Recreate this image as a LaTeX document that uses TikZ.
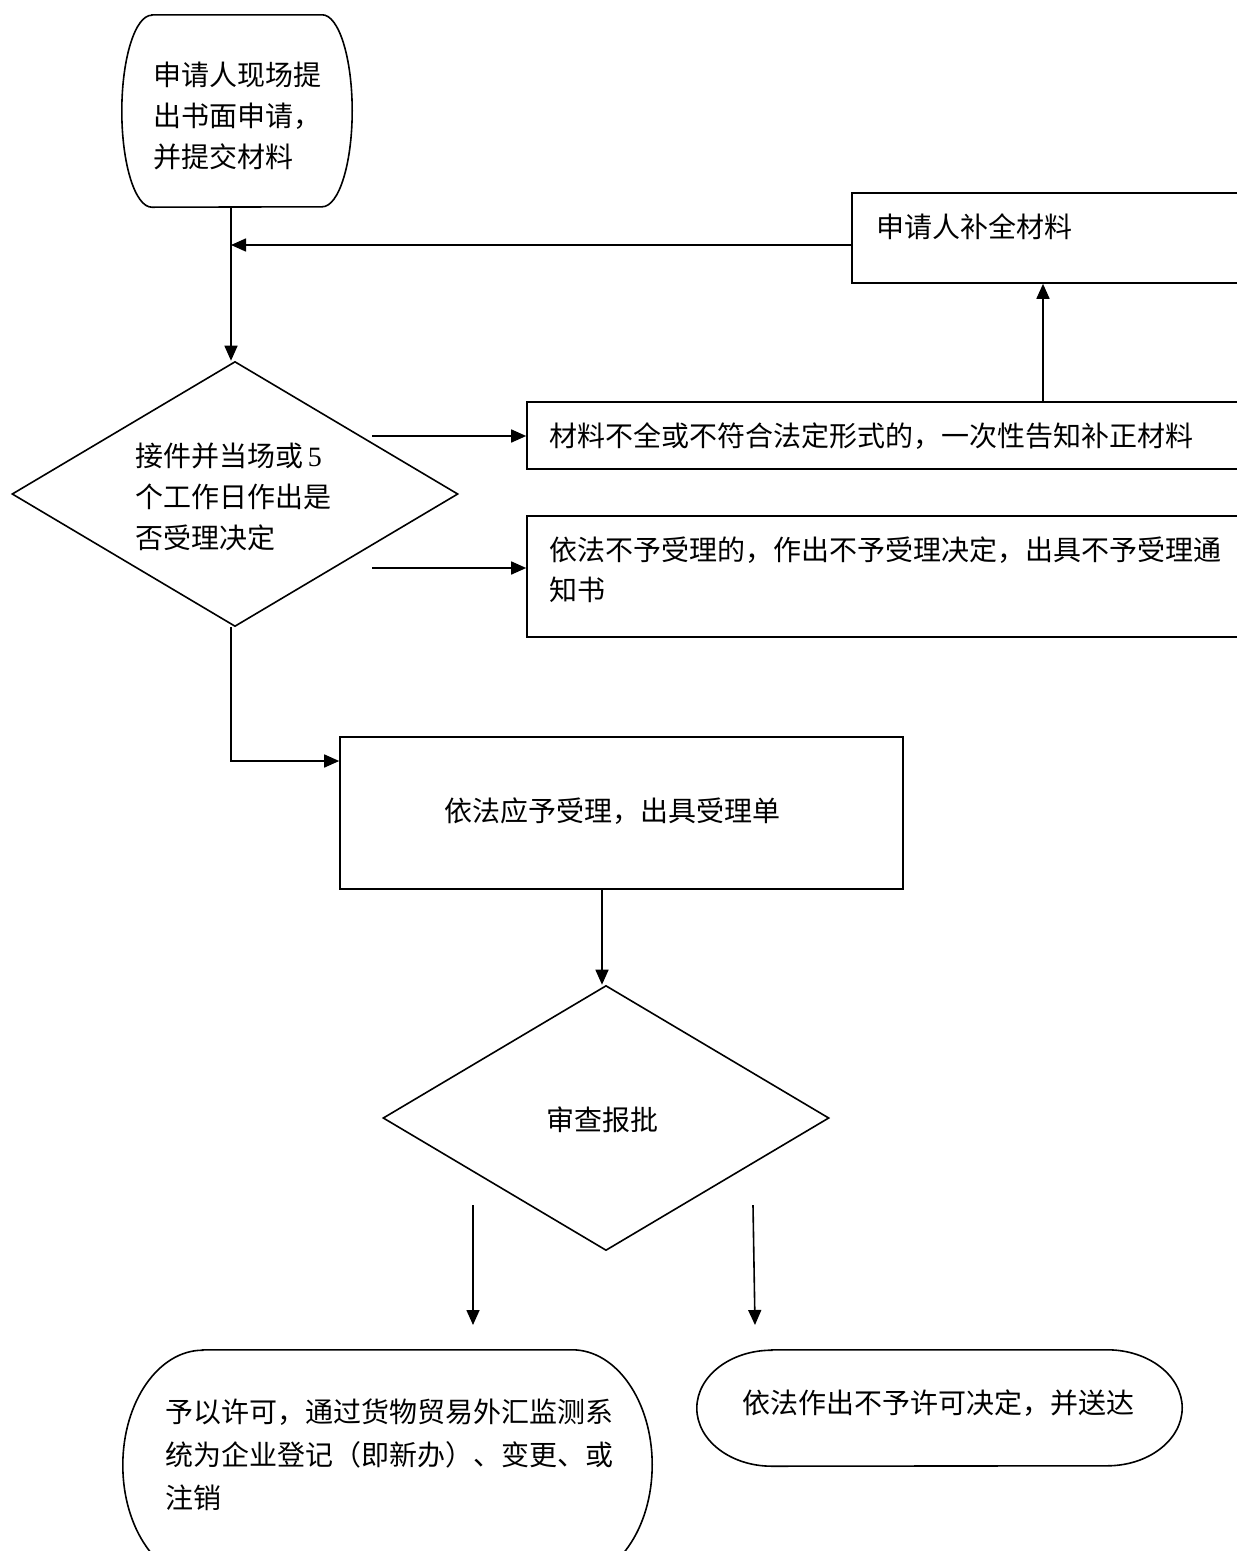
\documentclass[tikz,border=0pt]{standalone}
\usepackage{fontspec}
\setmainfont{Liberation Serif}
\newfontfamily\cjk{Noto Sans CJK SC}
\usetikzlibrary{arrows.meta,shapes.geometric,calc}
\tikzset{
  ln/.style={line width=1.6pt, draw=black},
  arr/.style={ln, -{Triangle[length=15pt,width=13pt]}},
  boxnode/.style={ln, rectangle, inner sep=0pt},
  decnode/.style={ln, diamond, inner sep=0pt, minimum width=446pt, minimum height=265pt},
  termnode/.style={rectangle, draw=none, inner sep=0pt},
  txt/.style={inner sep=0pt, align=left, font=\cjk\fontsize{28}{41}\selectfont},
}
\begin{document}
\begin{tikzpicture}[x=1pt,y=1pt]
\useasboundingbox (0,0) rectangle (1237,-1551);

% terminals (outline drawn below)
\node[termnode, minimum width=230pt, minimum height=192pt] (s) at (237,-111) {};
\node[termnode, minimum width=529pt, minimum height=230pt] (t1) at (387.5,-1465) {};
\node[termnode, minimum width=485pt, minimum height=116pt] (t2) at (939.5,-1408) {};
\draw[ln] ($(s.north west)+(30,0)$) -- ($(s.north east)+(-30,0)$)
  arc[start angle=90,end angle=-90,x radius=30pt,y radius=96pt]
  -- ($(s.south west)+(30,0)$)
  arc[start angle=270,end angle=90,x radius=30pt,y radius=96pt] -- cycle;
\draw[ln] ($(t1.north west)+(80,0)$) -- ($(t1.north east)+(-80,0)$)
  arc[start angle=90,end angle=-90,x radius=80pt,y radius=115pt]
  -- ($(t1.south west)+(80,0)$)
  arc[start angle=270,end angle=90,x radius=80pt,y radius=115pt] -- cycle;
\draw[ln] ($(t2.north west)+(75,0)$) -- ($(t2.north east)+(-75,0)$)
  arc[start angle=90,end angle=-90,x radius=75pt,y radius=58pt]
  -- ($(t2.south west)+(75,0)$)
  arc[start angle=270,end angle=90,x radius=75pt,y radius=58pt] -- cycle;

% decisions
\node[decnode] (d1) at (235,-494) {};
\node[decnode] (d2) at (606,-1118) {};

% boxes
\node[boxnode, minimum width=398pt, minimum height=90pt] (b1) at (1051,-238) {};
\node[boxnode, minimum width=723pt, minimum height=67pt] (b2) at (888.5,-435.5) {};
\node[boxnode, minimum width=723pt, minimum height=121pt] (b3) at (888.5,-576.5) {};
\node[boxnode, minimum width=563pt, minimum height=152pt] (b4) at (621.5,-813) {};

% texts
\node[txt, anchor=west] (st) at (153,-116) {申请人现场提\\出书面申请，\\并提交材料};
\node[txt, anchor=west] (d1t) at (135,-497) {接件并当场或\,{\rmfamily 5}\\个工作日作出是\\否受理决定};
\node[txt, anchor=west] (b1t) at (876,-227) {申请人补全材料};
\node[txt, anchor=west] (b2t) at (549,-436) {材料不全或不符合法定形式的，一次性告知补正材料};
\node[txt, anchor=west, font=\cjk\fontsize{28}{40}\selectfont] (b3t) at (549,-570) {依法不予受理的，作出不予受理决定，出具不予受理通\\知书};
\node[txt, anchor=center] (b4t) at (612,-811) {依法应予受理，出具受理单};
\node[txt, anchor=center] (d2t) at (602,-1120) {审查报批};
\node[txt, anchor=west, font=\cjk\fontsize{28}{43}\selectfont] (t1t) at (165,-1455) {予以许可，通过货物贸易外汇监测系\\统为企业登记（即新办）、变更、或\\注销};
\node[txt, anchor=west] (t2t) at (742,-1403) {依法作出不予许可决定，并送达};

% helper coordinates
\coordinate (xa) at (231,0);
\coordinate (j1) at (231,-245);
\coordinate (xb) at (1043,0);
\coordinate (p1) at (372,-436);
\coordinate (p2) at (372,-568);
\coordinate (k) at (231,-761);
\coordinate (xc) at (602,0);
\coordinate (r1s) at (473,-1205);
\coordinate (r1e) at (473,-1325);
\coordinate (r2s) at (753,-1205);
\coordinate (r2e) at (755,-1325);

% connectors
\draw[arr] (s.south -| xa) -- (d1.north -| xa);
\draw[arr] (b1.west |- j1) -- (j1);
\draw[arr] (b2.north -| xb) -- (b1.south -| xb);
\draw[arr] (p1) -- (p1 -| b2.west);
\draw[arr] (p2) -- (p2 -| b3.west);
\draw[arr] (d1.south -| k) -- (k) -- (k -| b4.west);
\draw[arr] (b4.south -| xc) -- (d2.north -| xc);
\draw[arr] (r1s) -- (r1e);
\draw[arr] (r2s) -- (r2e);
\end{tikzpicture}
\end{document}
